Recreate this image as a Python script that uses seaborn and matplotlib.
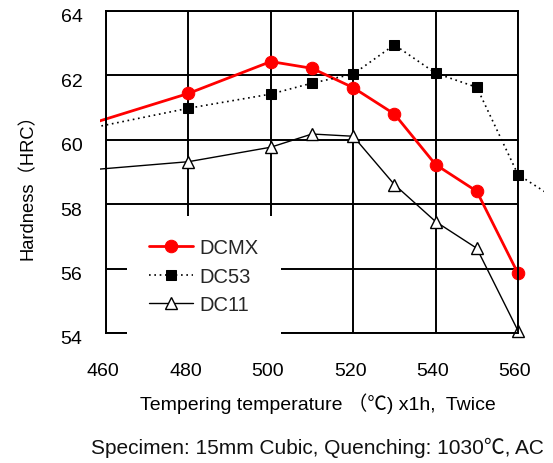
import numpy as np
import pandas as pd
import matplotlib
matplotlib.use("Agg")
import matplotlib.pyplot as plt
import seaborn as sns
from matplotlib.transforms import Bbox, TransformedBbox, ScaledTranslation

# ---- data ----
dcmx_t = [450, 480, 500, 510, 520, 530, 540, 550, 560]
dcmx_h = [60.25, 61.44, 62.43, 62.22, 61.62, 60.80, 59.23, 58.40, 55.85]

dc53_t = [450, 480, 500, 510, 520, 530, 540, 550, 560, 570]
dc53_h = [60.20, 60.98, 61.42, 61.76, 62.04, 62.95, 62.07, 61.63, 58.92, 58.10]

dc11_t = [450, 480, 500, 510, 520, 530, 540, 550, 560]
dc11_h = [59.00, 59.32, 59.77, 60.18, 60.11, 58.61, 57.46, 56.63, 54.07]

x_ticks = [460, 480, 500, 520, 540, 560]
y_ticks = [54, 56, 58, 60, 62, 64]

sns.set_theme(style="white")
plt.rcParams['font.family'] = ['Liberation Sans', 'Noto Sans CJK JP', 'DejaVu Sans']

fig = plt.figure(figsize=(5.53, 4.64), dpi=100)
ax = fig.add_axes([106/553, 1-334/464, 412/553, 322/464])

sns.lineplot(x=dcmx_t, y=dcmx_h, ax=ax, color="#ff0000", linewidth=2.0,
             marker="o", markersize=9, markeredgecolor="#ff0000",
             label="DCMX", sort=False)
sns.lineplot(x=dc53_t, y=dc53_h, ax=ax, color="black", linewidth=1.2,
             linestyle=(0, (1, 2.2)), marker="s", markersize=7.5,
             markeredgecolor="black", label="DC53", sort=False)
sns.lineplot(x=dc11_t, y=dc11_h, ax=ax, color="black", linewidth=1.0,
             marker="^", markersize=8, markerfacecolor="white",
             markeredgecolor="black", markeredgewidth=1.0,
             label="DC11", sort=False)

ax.set_xlim(460, 560)
ax.set_ylim(54, 64)
ax.set_xticks(x_ticks)
ax.set_yticks(y_ticks)
ax.set_xticklabels([str(v) for v in x_ticks])
ax.set_yticklabels([str(v) for v in y_ticks])
ax.tick_params(axis="both", length=0, labelsize=14, colors="black")
ax.tick_params(axis="y", pad=17)
ax.tick_params(axis="x", pad=21)

# small offsets of the tick labels as in the original
for lab in ax.get_yticklabels():
    lab.set_transform(lab.get_transform() + ScaledTranslation(0, -4/100, fig.dpi_scale_trans))
for lab in ax.get_xticklabels():
    lab.set_transform(lab.get_transform() + ScaledTranslation(-3/100, 0, fig.dpi_scale_trans))

ax.grid(True, color="black", linewidth=1.4)
for s in ax.spines.values():
    s.set_color("black")
    s.set_linewidth(1.4)
    s.set_visible(True)

# lines slightly overrun the frame like in the original
clipbox = TransformedBbox(Bbox([[-0.015, -0.04], [1.062, 1.04]]), ax.transAxes)
for ln in ax.get_lines():
    ln.set_clip_box(clipbox)

ax.set_xlabel("Tempering temperature （℃) x1h,  Twice", fontsize=14, color="black")
ax.set_ylabel("Hardness（HRC）", fontsize=13.2, color="black")
ax.xaxis.set_label_coords(0.515, -0.183)
ax.yaxis.set_label_coords(-0.167, 0.47)

leg = ax.legend(loc="upper left", bbox_to_anchor=(127/553, 1-217/464),
                bbox_transform=fig.transFigure, borderaxespad=0,
                borderpad=1.1, handlelength=2.2, handletextpad=0.3,
                labelspacing=0.48, fontsize=14.5, frameon=True, fancybox=False)
leg.get_frame().set_edgecolor("none")
leg.get_frame().set_facecolor("white")
leg.get_frame().set_alpha(1)

fig.text(317/553, 1-448/464, "Specimen: 15mm Cubic, Quenching: 1030℃, AC",
         ha="center", va="center", fontsize=15, color="#111111")

fig.savefig("out.png", dpi=100)
